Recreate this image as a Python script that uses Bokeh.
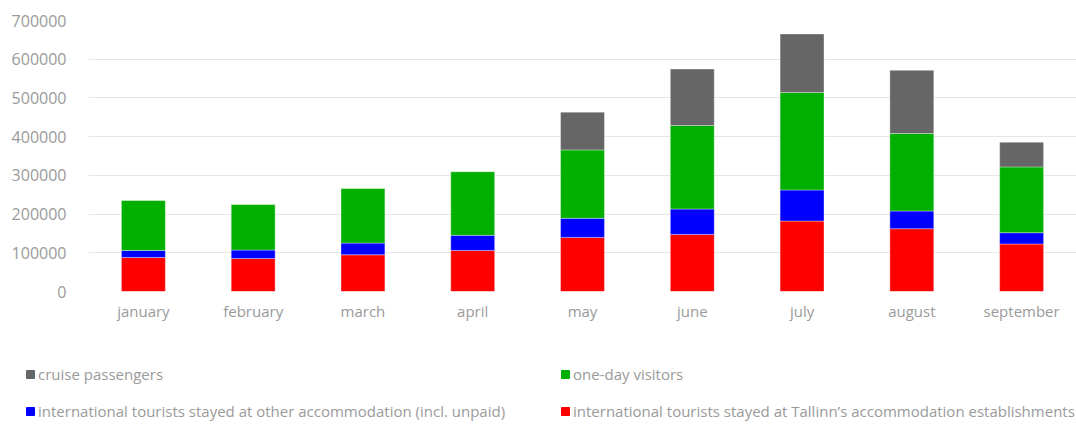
from bokeh.plotting import figure
from bokeh.models import (ColumnDataSource, Range1d, FixedTicker, BasicTickFormatter,
                          Legend, LegendItem, FactorRange)
from bokeh.embed import file_html
from bokeh.resources import INLINE

months = ["january", "february", "march", "april", "may", "june", "july", "august", "september"]
tallinn_accommodation = [88000, 85400, 94900, 106100, 139800, 147500, 182000, 162200, 122500]
other_accommodation = [18000, 21600, 30200, 38900, 49200, 65600, 80300, 45700, 29400]
one_day_visitors = [129600, 118200, 141500, 164700, 176800, 215700, 251900, 200200, 169900]
cruise_passengers = [0, 0, 0, 0, 97500, 145800, 151000, 163100, 63900]

series = ["tallinn", "other", "oneday", "cruise"]
labels = {
    "tallinn": "international tourists stayed at Tallinn\u2019s accommodation establishments",
    "other": "international tourists stayed at other accommodation (incl. unpaid)",
    "oneday": "one-day visitors",
    "cruise": "cruise passengers",
}
colors = {"tallinn": "#ff0000", "other": "#0000ff", "oneday": "#00b000", "cruise": "#666666"}

src = ColumnDataSource(dict(
    month=months,
    tallinn=tallinn_accommodation,
    other=other_accommodation,
    oneday=one_day_visitors,
    cruise=cruise_passengers,
))

FONT = "Open Sans"
p = figure(x_range=FactorRange(*months), y_range=Range1d(0, 700000),
           width=1076, height=340, output_backend="svg", toolbar_location=None,
           min_border_left=88, min_border_right=0, min_border_top=20, min_border_bottom=49)
p.outline_line_color = None

rs = p.vbar_stack(series, x="month", width=0.4, source=src,
                  color=[colors[s] for s in series],
                  line_color="white", line_alpha=0.35, line_width=1)

p.yaxis.ticker = FixedTicker(ticks=[0, 100000, 200000, 300000, 400000, 500000, 600000, 700000])
p.yaxis.formatter = BasicTickFormatter(use_scientific=False)
for ax in (p.xaxis[0], p.yaxis[0]):
    ax.axis_line_color = None
    ax.major_tick_line_color = None
    ax.minor_tick_line_color = None
    ax.major_label_text_font = FONT
    ax.major_label_text_color = "#9a9a9a"
p.yaxis.major_label_text_font_size = "16px"
p.xaxis.major_label_text_font_size = "15px"
p.yaxis.major_label_standoff = 16
p.xaxis.major_label_standoff = 3
p.xgrid.grid_line_color = None
p.ygrid.grid_line_color = "#e6e6e6"
p.ygrid.grid_line_width = 1

# legend panel below the chart (separate root so its frame is not aligned)
lf = figure(width=1076, height=84, x_range=Range1d(0, 1), y_range=Range1d(0, 1),
            output_backend="svg", toolbar_location=None, x_axis_type=None, y_axis_type=None,
            min_border=0, min_border_left=0, min_border_right=0, min_border_top=0, min_border_bottom=0)
lf.outline_line_color = None
lf.grid.visible = False
dummy = ColumnDataSource(dict(x=[5], top=[5], bottom=[4]))
lr = {s: lf.vbar(x="x", top="top", bottom="bottom", width=0.1, source=dummy, color=colors[s])
      for s in series}

legend = Legend(
    items=[LegendItem(label=labels[s], renderers=[lr[s]]) for s in ["cruise", "other", "oneday", "tallinn"]],
    ncols=2,
    location=(25, 3),
    glyph_width=10, glyph_height=10, label_standoff=3, label_width=505,
    label_height=20, spacing=17, padding=0, margin=0,
    border_line_color=None, background_fill_alpha=0,
    label_text_font=FONT, label_text_font_size="15px", label_text_color="#9a9a9a",
)
lf.add_layout(legend, "center")

open("out.html", "w").write(file_html([p, lf], INLINE))
